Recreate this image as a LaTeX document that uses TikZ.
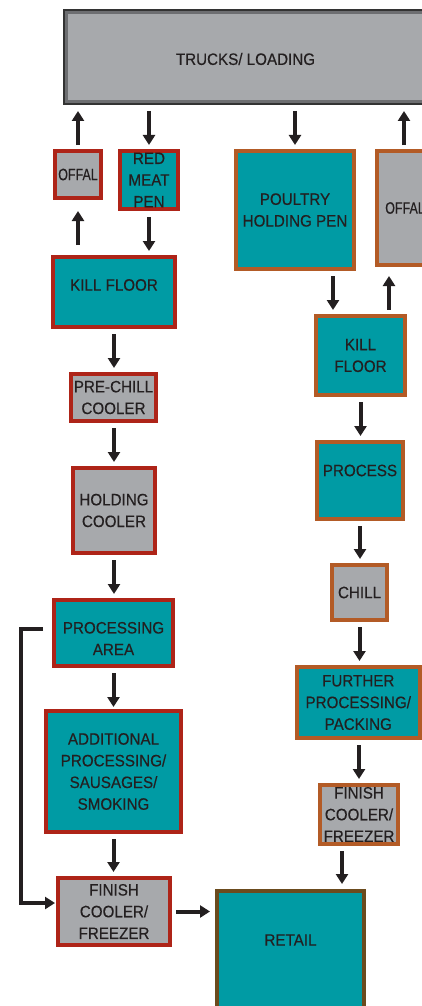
\documentclass[tikz,border=0pt]{standalone}
\usepackage{graphicx}
\usepackage{fontspec}
\setmainfont{Liberation Sans}[FakeStretch=0.92, FakeBold=0.35]
\usetikzlibrary{arrows.meta}

\definecolor{boxteal}{HTML}{009BA4}
\definecolor{boxgray}{HTML}{A7A9AC}
\definecolor{redline}{HTML}{AE2418}
\definecolor{rustline}{HTML}{B35B26}
\definecolor{retailline}{HTML}{6B4B1E}
\definecolor{ink}{HTML}{231F20}
\definecolor{truckline}{HTML}{6D6E71}
\definecolor{truckedge}{HTML}{333333}

% move a label up or down without changing its box
\newcommand{\liftby}[2]{\raisebox{#1}[\height][\depth]{#2}}

\tikzset{
  box/.style={rectangle, inner sep=0pt, line width=3.8pt, text=ink,
    font=\fontsize{16.5}{21.7}\selectfont, align=center},
  redbox/.style={box, draw=redline},
  rustbox/.style={box, draw=rustline},
  tealfill/.style={fill=boxteal},
  grayfill/.style={fill=boxgray},
  sz/.style 2 args={minimum width=#1pt, minimum height=#2pt},
  flow/.style={draw=ink, line width=4pt, -{Triangle[width=12pt,length=10pt]},
    shorten <=5pt, shorten >=4pt},
}

\begin{document}
\begin{tikzpicture}[x=1pt, y=-1pt]
\useasboundingbox (0,0) rectangle (422,1006);
\clip (0,0) rectangle (422,1006);

% loading dock across the top
\node[box, fill=boxgray, draw=truckline, line width=5pt, sz={360}{91}] (trucks) at (245.5,57) {\liftby{-2pt}{TRUCKS/ LOADING}};
\draw[truckedge, line width=1.6pt] ([shift={(0.8pt,-0.8pt)}]trucks.north west) rectangle ([shift={(-0.8pt,0.8pt)}]trucks.south east);

% red meat line
\node[redbox, grayfill, sz={46.2}{47.2}] (offalL) at (78,174.5) {\scalebox{0.82}[1]{OFFAL}};
\node[redbox, tealfill, sz={58.2}{58.2}] (rmp) at (149,180) {RED\\MEAT\\PEN};
\node[redbox, tealfill, sz={122.2}{70.2}] (kfL) at (114,292) {\liftby{7pt}{KILL FLOOR}};
\node[redbox, grayfill, sz={85.2}{47.2}] (pre) at (113.5,397.5) {PRE-CHILL\\COOLER};
\node[redbox, grayfill, sz={82.2}{85.2}] (hold) at (114,510.5) {HOLDING\\COOLER};
\node[redbox, tealfill, sz={119.2}{66.2}] (proc) at (113.5,633) {\liftby{-7pt}{\begin{tabular}{@{}c@{}}PROCESSING\\AREA\end{tabular}}};
\node[redbox, tealfill, sz={135.2}{121.2}] (add) at (113.5,771.5) {ADDITIONAL\\PROCESSING/\\SAUSAGES/\\SMOKING};
\node[redbox, grayfill, sz={112.2}{67.2}] (finL) at (114,911.5) {FINISH\\COOLER/\\FREEZER};

% poultry line
\node[rustbox, tealfill, sz={118.2}{118.2}] (poultry) at (295,210) {POULTRY\\HOLDING PEN};
\node[rustbox, grayfill, sz={56.2}{114.2}] (offalR) at (405,208) {\scalebox{0.82}[1]{OFFAL}};
\node[rustbox, tealfill, sz={89.2}{79.2}] (kfR) at (360.5,355.5) {KILL\\FLOOR};
\node[rustbox, tealfill, sz={86.2}{77.2}] (process) at (360,480.5) {\liftby{10pt}{PROCESS}};
\node[rustbox, grayfill, sz={55.2}{55.2}] (chill) at (359.5,592.5) {CHILL};
\node[rustbox, tealfill, sz={122.7}{71.2}] (further) at (358.25,702.5) {FURTHER\\PROCESSING/\\PACKING};
\node[rustbox, grayfill, sz={78.2}{59.2}] (finR) at (359,814.5) {FINISH\\COOLER/\\FREEZER};

% shared outlet
\node[box, fill=boxteal, draw=retailline, line width=4pt, sz={147}{137}] (retail) at (290.5,959.5) {\liftby{19.5pt}{RETAIL}};

% red meat flow
\draw[flow, shorten <=4pt, shorten >=6pt] (offalL.north) -- (offalL.north |- trucks.south);
\draw[flow, shorten <=6pt, shorten >=4pt] (rmp.north |- trucks.south) -- (rmp.north);
\draw[flow, shorten <=10pt, shorten >=11pt] (offalL.south |- kfL.north) -- (offalL.south);
\draw[flow, shorten <=6pt, shorten >=4pt] (rmp.south) -- (rmp.south |- kfL.north);
\draw[flow] (kfL.south) -- (kfL.south |- pre.north);
\draw[flow] (hold.north |- pre.south) -- (hold.north);
\draw[flow] (hold.south) -- (hold.south |- proc.north);
\draw[flow, shorten >=2pt] (proc.south) -- (proc.south |- add.north);
\draw[flow] (add.south) -- (add.south |- finL.north);
\draw[flow, shorten <=4pt, shorten >=5pt] (finL.east) -- (finL.east -| retail.west);
\draw[flow, shorten <=0pt, shorten >=0pt] ([shift={(-9pt,4pt)}]proc.west) -- ++(-22pt,0pt) |- ([shift={(-1pt,8.5pt)}]finL.west);

% poultry flow
\draw[flow, shorten <=6pt, shorten >=4pt] (poultry.north |- trucks.south) -- (poultry.north);
\draw[flow, shorten <=4pt, shorten >=6pt] ([xshift=-1pt]offalR.north) -- ([xshift=-1pt]offalR.north |- trucks.south);
\draw[flow] ([xshift=38pt]poultry.south) -- ([xshift=38pt]poultry.south |- kfR.north);
\draw[flow, shorten <=4.5pt, shorten >=9pt] ([xshift=28.5pt]kfR.north) -- ([xshift=28.5pt]kfR.north |- offalR.south);
\draw[flow] (kfR.south) -- (kfR.south |- process.north);
\draw[flow] (process.south) -- (process.south |- chill.north);
\draw[flow] (chill.south) -- (chill.south |- further.north);
\draw[flow] (finR.north |- further.south) -- (finR.north);
\draw[flow, shorten <=5pt, shorten >=5pt] ([xshift=-17pt]finR.south) -- ([xshift=-17pt]finR.south |- retail.north);
\end{tikzpicture}
\end{document}
